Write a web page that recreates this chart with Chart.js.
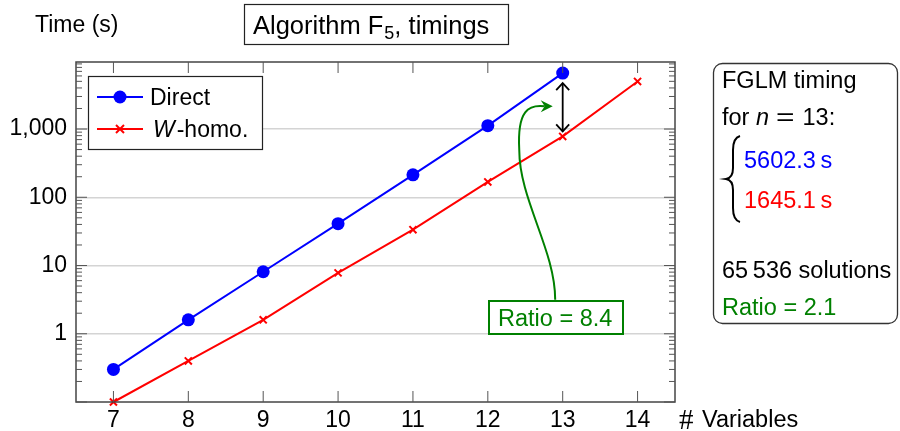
<!DOCTYPE html>
<html>
<head>
<meta charset="utf-8">
<script src="https://cdn.jsdelivr.net/npm/chart.js@4"></script>
<style>
html,body{margin:0;padding:0;background:#fff;}
#wrap{width:900px;height:431px;}
</style>
</head>
<body>
<div id="wrap"><canvas id="c" width="900" height="431"></canvas></div>
<script>
// ---- data ----
const variables = [7, 8, 9, 10, 11, 12, 13, 14];
const directTimes = [0.30, 1.60, 8.1, 41, 213, 1120, 6600];          // n = 7..13
const whomoTimes  = [0.10, 0.40, 1.60, 7.8, 33.5, 168, 780, 4980];   // n = 7..14
const yTickLabels = [1, 10, 100, 1000];
const seriesNames = ['Direct', 'W-homo.'];
const fglmDirect = '5602.3\u2009s';
const fglmWhomo = '1645.1\u2009s';
const solutions = '65\u2009536 solutions';
const ratioPlot = 'Ratio = 8.4';
const ratioFglm = 'Ratio = 2.1';

const FONT = '"Liberation Sans", Arial, Helvetica, sans-serif';
const BLUE = '#0000ff', RED = '#ff0000', GREEN = '#008000';

const directPts = directTimes.map((v, i) => ({x: variables[i], y: v}));
const whomoPts = whomoTimes.map((v, i) => ({x: variables[i], y: v}));

function arrowOpen(ctx, x, y, dir, w, l) {
  ctx.beginPath();
  ctx.moveTo(x - w, y - dir * l);
  ctx.lineTo(x, y);
  ctx.lineTo(x + w, y - dir * l);
  ctx.stroke();
}

const decor = {
  id: 'decor',
  afterDraw(chart) {
    const ctx = chart.ctx;
    const a = chart.chartArea;
    const xs = chart.scales.x, ys = chart.scales.y;
    const P = (xv, yv) => [xs.getPixelForValue(xv), ys.getPixelForValue(yv)];
    ctx.save();

    // frame
    ctx.strokeStyle = '#444';
    ctx.lineWidth = 1.5;
    ctx.strokeRect(a.left, a.top, a.right - a.left, a.bottom - a.top);

    // x ticks (inside, bottom and top)
    ctx.lineWidth = 1;
    ctx.strokeStyle = '#555';
    variables.forEach(v => {
      const px = xs.getPixelForValue(v);
      ctx.beginPath();
      ctx.moveTo(px, a.bottom); ctx.lineTo(px, a.bottom - 11);
      ctx.moveTo(px, a.top); ctx.lineTo(px, a.top + 11);
      ctx.stroke();
    });
    // y ticks major + minor
    for (let d = -1; d <= 4; d++) {
      for (let k = 1; k <= 9; k++) {
        const v = k * Math.pow(10, d);
        if (v < ys.min || v > ys.max) continue;
        const py = ys.getPixelForValue(v);
        const len = k === 1 ? 11 : 6;
        ctx.beginPath();
        ctx.moveTo(a.left, py); ctx.lineTo(a.left + len, py);
        ctx.moveTo(a.right, py); ctx.lineTo(a.right - len, py);
        ctx.stroke();
      }
    }

    // axis titles
    ctx.fillStyle = '#000';
    ctx.textBaseline = 'alphabetic';
    ctx.font = '23px ' + FONT;
    ctx.textAlign = 'left';
    ctx.fillText('Time (s)', 35, 32);
    ctx.font = '29px "Liberation Serif", serif';
    ctx.fillText('#', 679, 429);
    ctx.font = '23.5px ' + FONT;
    ctx.fillText('Variables', 702, 427);

    // title box
    ctx.strokeStyle = '#222';
    ctx.lineWidth = 1.2;
    ctx.strokeRect(244.5, 4.5, 264, 40);
    ctx.font = '25.5px ' + FONT;
    let tx = 253;
    const t1 = 'Algorithm F';
    ctx.fillText(t1, tx, 34);
    tx += ctx.measureText(t1).width;
    ctx.font = '18px ' + FONT;
    ctx.fillText('5', tx + 1, 39);
    tx += ctx.measureText('5').width + 1;
    ctx.font = '25.5px ' + FONT;
    ctx.fillText(', timings', tx, 34);

    // legend
    ctx.fillStyle = '#fff';
    ctx.fillRect(88, 76, 174, 73);
    ctx.strokeStyle = '#222';
    ctx.lineWidth = 1.2;
    ctx.strokeRect(88.5, 76.5, 174, 73);
    ctx.lineWidth = 2;
    ctx.strokeStyle = BLUE;
    ctx.beginPath(); ctx.moveTo(97, 97); ctx.lineTo(143, 97); ctx.stroke();
    ctx.fillStyle = BLUE;
    ctx.beginPath(); ctx.arc(120, 97, 6.5, 0, Math.PI * 2); ctx.fill();
    ctx.strokeStyle = RED;
    ctx.beginPath(); ctx.moveTo(97, 129); ctx.lineTo(143, 129); ctx.stroke();
    ctx.beginPath();
    ctx.moveTo(116, 125); ctx.lineTo(124, 133);
    ctx.moveTo(124, 125); ctx.lineTo(116, 133);
    ctx.stroke();
    ctx.fillStyle = '#000';
    ctx.font = '23px ' + FONT;
    ctx.fillText(seriesNames[0], 150, 105);
    ctx.font = 'italic 23px ' + FONT;
    ctx.fillText('W', 153, 137);
    let wx = 153 + ctx.measureText('W').width + 2;
    ctx.font = '23px ' + FONT;
    ctx.fillText('-homo.', wx, 137);

    // black double arrow at n = 13
    const [ax, ay1] = P(13, directTimes[6]);
    const [, ay2] = P(13, whomoTimes[6]);
    const top = ay1 + 10, bot = ay2 - 5;
    ctx.strokeStyle = '#000';
    ctx.lineWidth = 1.8;
    ctx.beginPath(); ctx.moveTo(ax, top); ctx.lineTo(ax, bot); ctx.stroke();
    arrowOpen(ctx, ax, top, -1, 6.5, 7);
    arrowOpen(ctx, ax, bot, 1, 6.5, 7);

    // green curved arrow from ratio box
    const s0 = P(12.90, 3.15), c1 = P(12.90, 17), c2 = P(12.42, 92), m = P(12.42, 494);
    const c3 = P(12.39, 1900), c4 = P(12.55, 2300), e = P(12.84, 2150);
    ctx.strokeStyle = GREEN;
    ctx.lineWidth = 2;
    ctx.beginPath();
    ctx.moveTo(s0[0], s0[1]);
    ctx.bezierCurveTo(c1[0], c1[1], c2[0], c2[1], m[0], m[1]);
    ctx.bezierCurveTo(c3[0], c3[1], c4[0], c4[1], e[0] - 6, e[1]);
    ctx.stroke();
    ctx.fillStyle = GREEN;
    ctx.beginPath();
    ctx.moveTo(e[0] + 2, e[1]);
    ctx.lineTo(e[0] - 10, e[1] - 6);
    ctx.lineTo(e[0] - 6, e[1]);
    ctx.lineTo(e[0] - 10, e[1] + 6);
    ctx.closePath();
    ctx.fill();

    // ratio box in plot
    ctx.fillStyle = '#fff';
    ctx.fillRect(489, 301, 134, 33);
    ctx.strokeStyle = GREEN;
    ctx.lineWidth = 2;
    ctx.strokeRect(489, 301, 134, 33);
    ctx.fillStyle = GREEN;
    ctx.font = '23.5px ' + FONT;
    ctx.fillText(ratioPlot, 498, 326);

    // right info box
    ctx.strokeStyle = '#333';
    ctx.lineWidth = 1.3;
    ctx.beginPath();
    ctx.roundRect(713.5, 63.5, 184, 260, 9);
    ctx.stroke();
    ctx.fillStyle = '#000';
    ctx.font = '23.5px ' + FONT;
    ctx.fillText('FGLM timing', 722, 88);
    let fx = 722;
    ctx.fillText('for ', fx, 125);
    fx += ctx.measureText('for ').width;
    ctx.font = 'italic 23.5px ' + FONT;
    ctx.fillText('n', fx, 125);
    fx += ctx.measureText('n').width + 7;
    ctx.font = '23.5px ' + FONT;
    ctx.save();
    ctx.translate(fx, 0); ctx.scale(1.35, 1);
    ctx.fillText('=', 0, 125);
    ctx.restore();
    fx += ctx.measureText('=').width * 1.35 + 8;
    ctx.fillText('13:', fx, 125);
    // brace
    ctx.strokeStyle = '#000';
    ctx.lineWidth = 2;
    ctx.beginPath();
    ctx.moveTo(740, 136);
    ctx.quadraticCurveTo(733, 138, 733, 150);
    ctx.lineTo(733, 168);
    ctx.quadraticCurveTo(733, 178, 726, 179);
    ctx.quadraticCurveTo(733, 180, 733, 190);
    ctx.lineTo(733, 208);
    ctx.quadraticCurveTo(733, 220, 740, 222);
    ctx.stroke();
    ctx.fillStyle = BLUE;
    ctx.fillText(fglmDirect, 744, 168);
    ctx.fillStyle = RED;
    ctx.fillText(fglmWhomo, 744, 208);
    ctx.fillStyle = '#000';
    ctx.fillText(solutions, 722, 278);
    ctx.fillStyle = GREEN;
    ctx.fillText(ratioFglm, 722, 315);

    ctx.restore();
  }
};

new Chart(document.getElementById('c'), {
  type: 'line',
  data: {
    datasets: [
      {
        label: seriesNames[0],
        data: directPts,
        borderColor: BLUE,
        backgroundColor: BLUE,
        borderWidth: 2,
        pointStyle: 'circle',
        pointRadius: 6.5,
        pointBorderWidth: 0,
        pointBackgroundColor: BLUE,
        clip: false
      },
      {
        label: seriesNames[1],
        data: whomoPts,
        borderColor: RED,
        backgroundColor: RED,
        borderWidth: 2,
        pointStyle: 'crossRot',
        pointRadius: 5,
        pointBorderWidth: 2,
        pointBorderColor: RED,
        clip: false
      }
    ]
  },
  options: {
    responsive: false,
    animation: false,
    devicePixelRatio: 1,
    layout: {padding: {top: 62, right: 225, left: 0, bottom: 0}},
    plugins: {legend: {display: false}, tooltip: {enabled: false}, title: {display: false}},
    elements: {line: {tension: 0}},
    scales: {
      x: {
        type: 'linear',
        min: 6.5,
        max: 14.5,
        afterBuildTicks(scale) { scale.ticks = variables.map(v => ({value: v})); },
        afterFit(scale) { scale.height = 29; },
        grid: {display: false, drawTicks: false},
        border: {display: false},
        ticks: {
          color: '#000',
          font: {family: FONT, size: 23},
          padding: 5,
          maxRotation: 0,
          callback: v => String(v)
        }
      },
      y: {
        type: 'logarithmic',
        min: 0.1,
        max: 9600,
        afterBuildTicks(scale) { scale.ticks = yTickLabels.map(v => ({value: v, major: true})); },
        afterFit(scale) { scale.width = 76; },
        grid: {color: '#d4d4d4', lineWidth: 1.5, drawTicks: false},
        border: {display: false},
        ticks: {
          color: '#000',
          font: {family: FONT, size: 23},
          padding: 9,
          callback: v => Number(v).toLocaleString('en-US')
        }
      }
    }
  },
  plugins: [decor]
});
</script>
</body>
</html>
